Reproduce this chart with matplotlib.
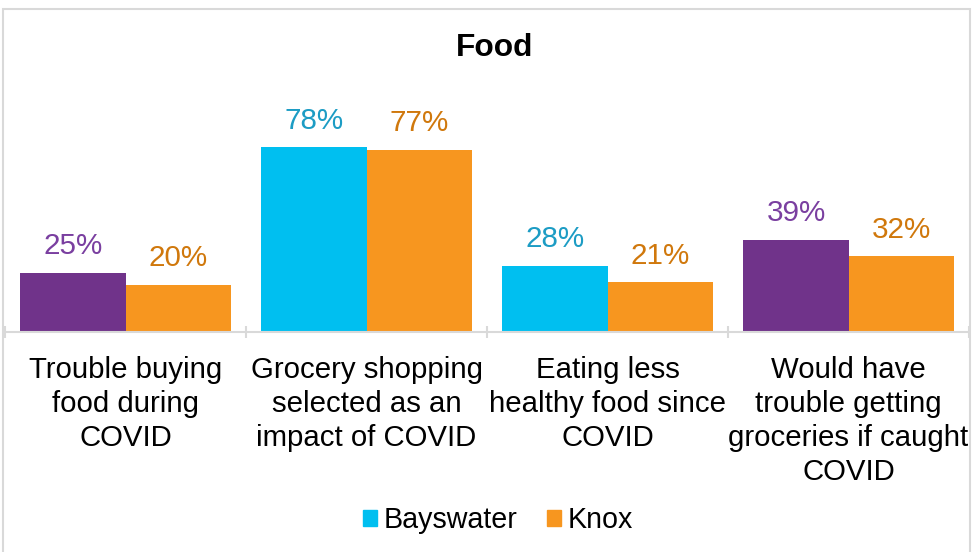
import matplotlib
matplotlib.use("Agg")
import matplotlib.pyplot as plt
from matplotlib.patches import Rectangle, Patch
import numpy as np

plt.rcParams['font.family'] = ['Liberation Sans', 'DejaVu Sans']

categories = ["Trouble buying\nfood during\nCOVID",
              "Grocery shopping\nselected as an\nimpact of COVID",
              "Eating less\nhealthy food since\nCOVID",
              "Would have\ntrouble getting\ngroceries if caught\nCOVID"]
bayswater = [25, 78, 28, 39]
knox = [20, 77, 21, 32]
series_names = ["Bayswater", "Knox"]

purple = "#70338a"
cyan = "#00bff0"
orange = "#f7961f"
bay_colors = [purple, cyan, cyan, purple]
bay_label_colors = ["#7a3fa0", "#1c9cc4", "#1c9cc4", "#7a3fa0"]
knox_label_color = "#d0780c"

fig = plt.figure(figsize=(9.72, 5.52), dpi=100)
# outer chart border
fig.patches.append(Rectangle((3/972, -0.01), 967/972, (552-9)/552 + 0.01,
                             transform=fig.transFigure, fill=False,
                             edgecolor="#d9d9d9", linewidth=1.5))

ax = fig.add_axes([5/972, (552-332)/552, 964/972, 237/552])
x = np.arange(len(categories))
w = 0.436
ax.bar(x - w/2, bayswater, w, color=bay_colors, linewidth=0)
ax.bar(x + w/2, knox, w, color=orange, linewidth=0)

for i in range(len(categories)):
    ax.annotate(f"{bayswater[i]}%", (x[i] - w/2, bayswater[i]), xytext=(0, 9),
                textcoords="offset points", ha="center", va="bottom",
                fontsize=21.3, color=bay_label_colors[i])
    ax.annotate(f"{knox[i]}%", (x[i] + w/2, knox[i]), xytext=(0, 9),
                textcoords="offset points", ha="center", va="bottom",
                fontsize=21.3, color=knox_label_color)

ax.set_xlim(-0.5, len(categories) - 0.5)
ax.set_ylim(0, 100)
ax.set_yticks([])
ax.set_xticks(np.arange(len(categories) + 1) - 0.5)
ax.set_xticklabels([])
ax.set_xticks(x, minor=True)
ax.set_xticklabels(categories, minor=True, fontsize=21.2, linespacing=1.28)
ax.tick_params(axis='x', which='major', length=9, width=1.5, color="#d9d9d9", direction='inout')
ax.tick_params(axis='x', which='minor', length=0, pad=17)
for s in ['top', 'right', 'left']:
    ax.spines[s].set_visible(False)
ax.spines['bottom'].set_color("#d9d9d9")
ax.spines['bottom'].set_linewidth(1.5)
for lbl in ax.get_xticklabels(minor=True):
    lbl.set_verticalalignment('top')

fig.text(495/972, (552-48)/552, "Food", ha="center", va="center", fontsize=22.8, fontweight="bold")

handles = [Patch(color=cyan, label=series_names[0]), Patch(color=orange, label=series_names[1])]
fig.legend(handles=handles, loc="center", bbox_to_anchor=(498/972, (552-520)/552), ncol=2,
           frameon=False, fontsize=20.6, handlelength=0.5, handleheight=0.5,
           handletextpad=0.25, columnspacing=1.0, borderpad=0)

fig.savefig("out.png", dpi=100)
